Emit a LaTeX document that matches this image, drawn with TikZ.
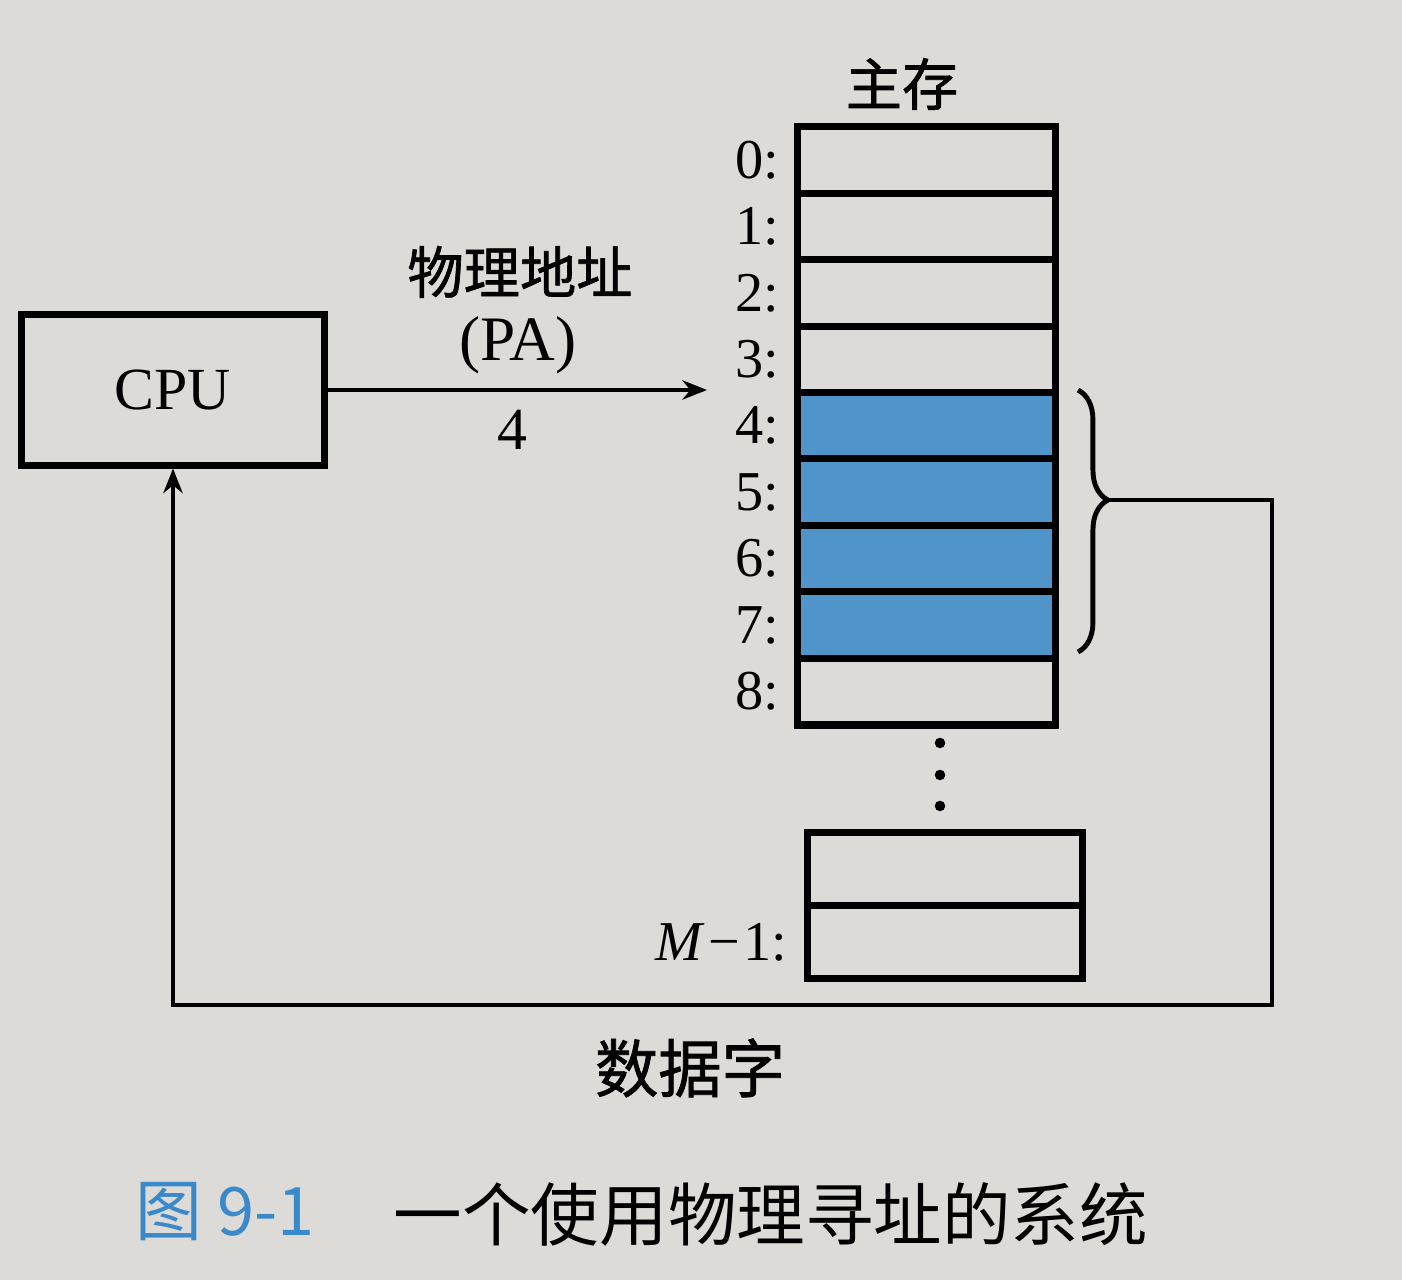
\documentclass[tikz,border=0pt]{standalone}
\usepackage{fontspec}
\setmainfont{Liberation Serif}
\newfontfamily\cjk{Noto Sans CJK SC}
\newfontfamily\cjkm[FakeBold=1.2]{Noto Sans CJK SC}
\usetikzlibrary{decorations.pathreplacing,arrows.meta}
\definecolor{paper}{HTML}{DCDBD7}
\definecolor{cellblue}{HTML}{4F95C9}
\definecolor{capblue}{HTML}{3A8ACB}
\begin{document}
\begin{tikzpicture}[x=0.01cm,y=-0.01cm,
  cell/.style={draw=black,line width=2pt,minimum width=2.57cm,minimum height=0.664cm,inner sep=0pt,outer sep=0pt},
  hot/.style={cell,fill=cellblue},
  lowcell/.style={cell,minimum width=2.75cm,minimum height=0.73cm},
  addr/.style={anchor=east,font=\fontsize{16}{16}\selectfont,inner sep=0pt},
  wire/.style={line width=1.1pt},
  tipped/.style={-{Stealth[length=7pt,width=5.5pt]}},
  cjklabel/.style={font=\cjkm\fontsize{16}{16}\selectfont,inner sep=0pt}]
\fill[paper] (0,0) rectangle (1402,1280);
\useasboundingbox (0,0) rectangle (1402,1280);

% memory title
\node[cjklabel] (title) at (902,84) {主存};

% memory cells
\foreach \i in {0,1,2,3}{
  \pgfmathsetmacro\yc{160.2+66.4*\i}
  \node[cell] (r\i) at (926.5,\yc) {};
}
\foreach \i in {4,5,6,7}{
  \pgfmathsetmacro\yc{160.2+66.4*\i}
  \node[hot] (r\i) at (926.5,\yc) {};
}
\node[cell] (r8) at (926.5,691.8) {};
\foreach \i in {0,...,8}{
  \pgfmathsetmacro\yc{160.2+66.4*\i}
  \node[addr] (l\i) at (780,\yc) {\i:};
}

% dots
\fill (940,743) circle (1.5pt);
\fill (940,775) circle (1.5pt);
\fill (940,806) circle (1.5pt);

% lower cells
\node[lowcell] (rm2) at (945,869) {};
\node[lowcell] (rm1) at (945,942) {};
\node[addr] (lm1) at (788,942) {\textit{M}\kern1pt−\kern1pt1:};

% CPU
\node[draw=black,line width=2pt,minimum width=3.03cm,minimum height=1.5cm,
      font=\fontsize{17}{17}\selectfont] (cpu) at (173,390) {CPU};

% address arrow
\coordinate (pa) at (707,390);
\draw[wire,tipped] (cpu.east) -- (pa);
\node[cjklabel] (pal) at (520,272) {物理地址};
\node[font=\fontsize{18}{18}\selectfont,inner sep=0pt] (pab) at (518,345) {(PA)};
\node[font=\fontsize{17}{17}\selectfont,inner sep=0pt] (four) at (512,430) {4};

% brace and data word
\draw[line width=1.4pt,decorate,decoration={brace,amplitude=8.5pt,aspect=0.42}] (1078,390) -- (1078,652);
\coordinate (bt) at (1108,500);
\coordinate (br) at (1272,500);
\coordinate (bl) at (173,1005);
\draw[wire,tipped] (bt) -- (br) |- (bl) -- (cpu.south);
\node[cjklabel,font=\cjkm\fontsize{18}{18}\selectfont] (dw) at (690,1068) {数据字};

% caption
\node[anchor=west,inner sep=0pt,text=capblue,font=\cjk\fontsize{19}{19}\selectfont] (cap1) at (135,1212) {图 9-1};
\node[anchor=west,inner sep=0pt,font=\cjk\fontsize{19.5}{19.5}\selectfont] (cap2) at (393,1214) {一个使用物理寻址的系统};
\end{tikzpicture}
\end{document}
